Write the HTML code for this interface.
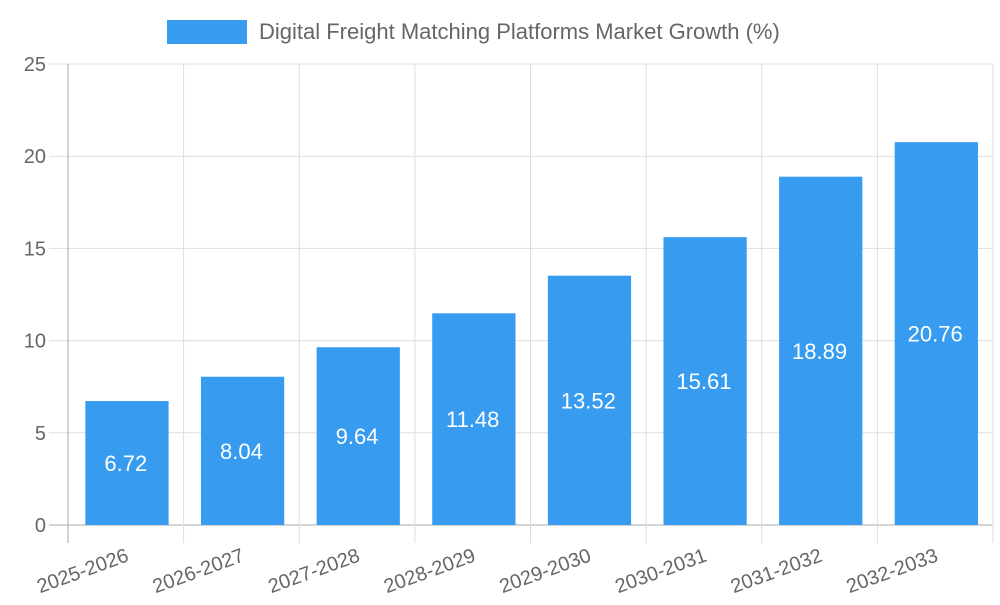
<!DOCTYPE html>
<html><head><meta charset="utf-8"><style>
body{margin:0;background:#fff;}
svg{font-family:"Liberation Sans",sans-serif;}
</style></head><body>
<svg id="c" width="1000" height="600"></svg>
<script>
const categories=["2025-2026","2026-2027","2027-2028","2028-2029","2029-2030","2030-2031","2031-2032","2032-2033"];
const values=[6.72,8.04,9.64,11.48,13.52,15.61,18.89,20.76];
const yTicks=[0,5,10,15,20,25];
const seriesName="Digital Freight Matching Platforms Market Growth (%)";
const L=68,R=993,T=64,B=525,yMax=25;
const svg=document.getElementById('c');
const NS='http://www.w3.org/2000/svg';
function mk(t,a,p){const e=document.createElementNS(NS,t);for(const k in a)e.setAttribute(k,a[k]);(p||svg).appendChild(e);return e;}
const y=v=>B-(v/yMax)*(B-T);
const bw=(R-L)/categories.length;
const x=i=>L+i*bw;
// grid
yTicks.forEach(t=>{
 const g=mk('line',{x1:L-19,x2:R,y1:y(t),y2:y(t),stroke:t===0?'#aaa':'#ddd','stroke-width':1});
 
 
 const tx=mk('text',{x:L-22,y:y(t)+7,'text-anchor':'end','font-size':20,fill:'#666'});
 tx.textContent=t;
 
 
});
for(let i=0;i<=categories.length;i++){
 const g=mk('line',{x1:x(i),x2:x(i),y1:T,y2:B+18,stroke:i===0?'#aaa':'#ddd','stroke-width':1});
 
 
}
categories.forEach((c,i)=>{
 const v=values[i];
 const bx=x(i)+bw*0.15,w=bw*0.72;
 const r=mk('rect',{x:bx,y:y(v),width:w,height:B-y(v),fill:'#379cf0'});
 
 
 const lt=mk('text',{x:x(i)+bw/2,y:(y(v)+B)/2+8,'text-anchor':'middle','font-size':22,fill:'#fff'});
 lt.textContent=v.toFixed(2);
 
 
 const cx=x(i)+bw/2+2;
 const xt=mk('text',{x:cx,y:B+36,'text-anchor':'end','font-size':20,fill:'#666',transform:`rotate(-20 ${cx} ${B+30})`});
 xt.textContent=c;
 
 
});
const lg=mk('g',{});


const sw=mk('rect',{x:167,y:20,width:80,height:24,fill:'#379cf0'},lg);


const lt=mk('text',{x:259,y:39,'font-size':22,fill:'#666'},lg);
lt.textContent=seriesName;


</script>
</body></html>
